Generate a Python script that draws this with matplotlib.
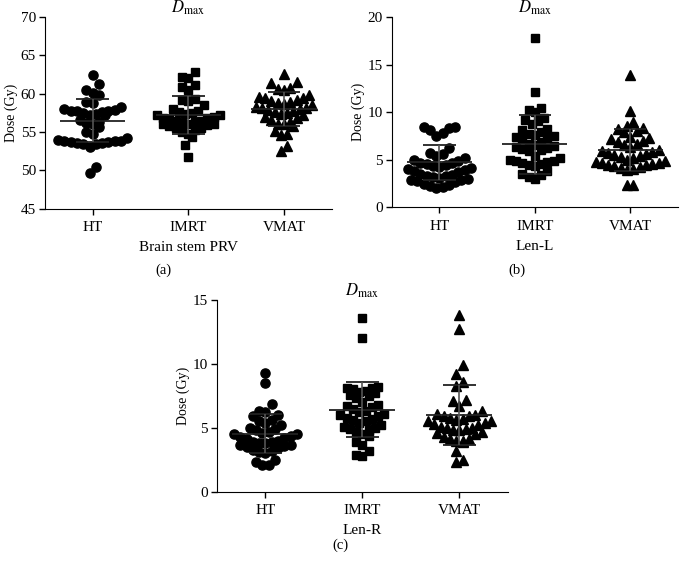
import numpy as np
import matplotlib
matplotlib.use("Agg")
import matplotlib.pyplot as plt

plt.rcParams["font.family"] = ["Liberation Serif", "DejaVu Serif"]
plt.rcParams["mathtext.fontset"] = "stix"

groups = ["HT", "IMRT", "VMAT"]

# panel (a) Brain stem PRV, Dmax (Gy)
ht_a = [62.4, 61.3, 60.5, 60.1, 59.8, 58.9, 58.8, 58.3, 58.0, 57.9, 57.8, 57.8, 57.7,
        57.6, 57.5, 57.4, 57.3, 57.2, 56.6, 56.3, 56.2, 56.0, 55.7, 55.0, 54.7, 54.2,
        54.0, 53.9, 53.8, 53.7, 53.6, 53.5, 53.5, 53.6, 53.7, 53.8, 53.0, 50.4, 49.7]
imrt_a = [62.8, 62.2, 62.1, 61.2, 60.9, 60.5, 59.3, 59.2, 59.0, 58.5, 58.0, 57.8, 57.6,
          57.5, 57.4, 57.3, 57.2, 57.0, 56.9, 56.8, 56.7, 56.5, 56.4, 56.3, 56.2, 56.1,
          56.0, 56.0, 55.9, 55.8, 55.6, 55.5, 55.3, 55.0, 54.8, 54.3, 53.3, 51.8]
vmat_a = [62.6, 61.6, 61.4, 60.7, 60.6, 60.5, 59.8, 59.6, 59.5, 59.4, 59.2, 59.0, 58.9,
          58.8, 58.7, 58.5, 58.3, 58.2, 58.1, 58.0, 57.9, 57.8, 57.6, 57.5, 57.4, 57.2,
          57.0, 56.8, 56.6, 56.3, 56.1, 56.0, 55.8, 55.1, 54.7, 54.6, 53.2, 52.6]
mean_a = [56.5, 57.2, 58.0]
sd_a = [2.85, 2.5, 2.2]

# panel (b) Len-L
ht_b = [8.4, 8.1, 7.5, 7.8, 8.3, 8.4, 6.2,
        5.7, 5.6, 5.4, 5.2, 5.0, 4.8, 4.6, 4.4, 4.2, 4.0, 3.8,
        4.6, 4.5, 4.3, 4.1, 3.9, 3.7, 3.5, 3.3, 3.1, 2.9, 3.4,
        3.3, 3.2, 3.0, 2.8, 2.6, 2.4, 2.2, 2.0, 2.1, 2.3, 2.7]
imrt_b = [17.8, 12.1, 10.4, 10.2, 10.0, 9.4, 9.2, 9.1, 8.8, 8.2, 8.1,
          7.6, 7.4, 7.3, 7.2, 7.5, 7.7, 7.9,
          6.6, 6.4, 6.2, 6.0, 5.9, 6.1, 6.3, 6.5, 6.8,
          5.2, 5.0, 4.8, 4.6, 4.4, 4.3, 4.5, 4.7, 4.9, 5.4,
          3.8, 3.4, 3.2, 3.0, 3.5]
vmat_b = [13.9, 10.1, 9.0, 8.5, 8.3, 8.2, 8.0, 7.9, 7.4, 7.3, 7.2, 7.0, 6.8, 6.6,
          6.5, 6.3, 6.0, 5.9, 5.8, 5.7, 5.6, 5.5, 5.4, 5.3, 5.2, 5.0, 4.8, 4.7, 4.6,
          4.6, 4.5, 4.4, 4.4, 4.3, 4.2, 4.1, 4.0, 3.9, 2.3, 2.3]
mean_b = [4.7, 6.6, 6.0]
sd_b = [1.8, 3.1, 2.25]

# panel (c) Len-R
ht_c = [9.3, 8.5, 6.9, 6.3, 6.2, 6.0, 5.9, 5.6, 5.5, 5.4, 5.2, 5.0, 4.9, 4.8, 4.7,
        4.6, 4.5, 4.5, 4.4, 4.3, 4.2, 4.1, 4.0, 3.9, 3.9, 3.8, 3.8, 3.7, 3.7, 3.6,
        3.5, 3.4, 3.3, 3.2, 3.1, 3.0, 2.5, 2.3, 2.1, 2.1]
imrt_c = [13.6, 12.0, 8.2, 8.1, 8.1, 8.0, 7.9, 7.8, 7.7, 7.6, 7.5, 7.3, 7.0, 6.8,
          6.7, 6.6, 6.5, 6.3, 6.2, 6.1, 6.0, 5.9, 5.8, 5.7, 5.6, 5.5, 5.4, 5.2, 5.1,
          5.0, 4.9, 4.8, 4.7, 4.5, 4.4, 3.9, 3.7, 3.2, 2.9, 2.8]
vmat_c = [13.8, 12.7, 9.9, 9.2, 8.6, 8.3, 7.2, 7.1, 6.7, 6.3, 6.1, 6.0, 5.9, 5.9,
          5.8, 5.7, 5.6, 5.5, 5.5, 5.4, 5.3, 5.2, 5.1, 5.0, 5.0, 4.9, 4.8, 4.8, 4.7,
          4.6, 4.5, 4.3, 4.1, 4.1, 4.0, 4.0, 3.9, 3.2, 2.5, 2.3]
mean_c = [4.55, 6.4, 6.0]
sd_c = [1.55, 2.15, 2.37]

markers = ["o", "s", "^"]
msizes = [6.6, 6.0, 7.0]


def swarm_x(ax, x0, vals, spacing, row_h):
    # Prism-like rows: close values share a row, lowest value in the middle
    pts = ax.transData.transform(np.column_stack([np.full(len(vals), x0), vals]))
    ys = pts[:, 1]
    rows = []
    for i in np.argsort(ys, kind="stable"):
        if rows and ys[i] - ys[rows[-1][0]] < row_h:
            rows[-1].append(i)
        else:
            rows.append([i])
    xpx = np.zeros(len(vals))
    for row in rows:
        n = len(row)
        slots = sorted(np.arange(n) - (n - 1) / 2, key=lambda s: (abs(s), s))
        for i, s in zip(row, slots):
            xpx[i] = s * spacing
    x_unit = ax.transData.transform([(1, 0)])[0, 0] - ax.transData.transform([(0, 0)])[0, 0]
    return x0 + xpx / x_unit


def panel(rect, data, means, sds, ylim, yticks, xlabel, letter, letter_xy):
    ax = fig.add_axes(rect)
    ax.set_xlim(-0.5, 2.5)
    ax.set_ylim(*ylim)
    for k, vals in enumerate(data):
        xs = swarm_x(ax, k, vals, 6.3, 9.5)
        ax.plot(xs, vals, linestyle="none", marker=markers[k], ms=msizes[k],
                color="black", mec="black", clip_on=False, zorder=2)
        m, s = means[k], sds[k]
        ax.hlines(m, k - 0.34, k + 0.34, color="#222222", lw=1.3, zorder=3)
        ax.hlines([m - s, m + s], k - 0.17, k + 0.17, color="#222222", lw=1.3, zorder=3)
        ax.vlines(k, m - s, m + s, color="#555555", lw=1.2, zorder=3)
    ax.set_xticks(range(3))
    ax.set_xticklabels(groups, fontsize=11)
    ax.set_yticks(yticks)
    ax.tick_params(axis="y", labelsize=11, length=4, width=1, pad=2.5)
    ax.tick_params(axis="x", length=4, width=1, pad=5)
    ax.spines["top"].set_visible(False)
    ax.spines["right"].set_visible(False)
    ax.set_ylabel("Dose (Gy)", fontsize=10, labelpad=2)
    ax.set_xlabel(xlabel, fontsize=11, labelpad=5)
    ax.annotate(r"$D_{\mathrm{max}}$", xy=(1, 1), xycoords=("data", "axes fraction"),
                xytext=(0, 3), textcoords="offset points", ha="center",
                va="baseline", fontsize=12)
    fig.text(letter_xy[0] / 680, 1 - letter_xy[1] / 572, letter, ha="center",
             va="center", fontsize=10.5)
    return ax


fig = plt.figure(figsize=(6.8, 5.72), dpi=100)

panel([0.066, 0.635, 0.422, 0.335], [ht_a, imrt_a, vmat_a], mean_a, sd_a,
      (45, 70), range(45, 71, 5), "Brain stem PRV", "(a)", (163, 270))
panel([0.576, 0.638, 0.421, 0.332], [ht_b, imrt_b, vmat_b], mean_b, sd_b,
      (0, 20), range(0, 21, 5), "Len-L", "(b)", (517, 270))
panel([0.319, 0.140, 0.428, 0.336], [ht_c, imrt_c, vmat_c], mean_c, sd_c,
      (0, 15), range(0, 16, 5), "Len-R", "(c)", (340, 545))

fig.savefig("out.png", dpi=100)
